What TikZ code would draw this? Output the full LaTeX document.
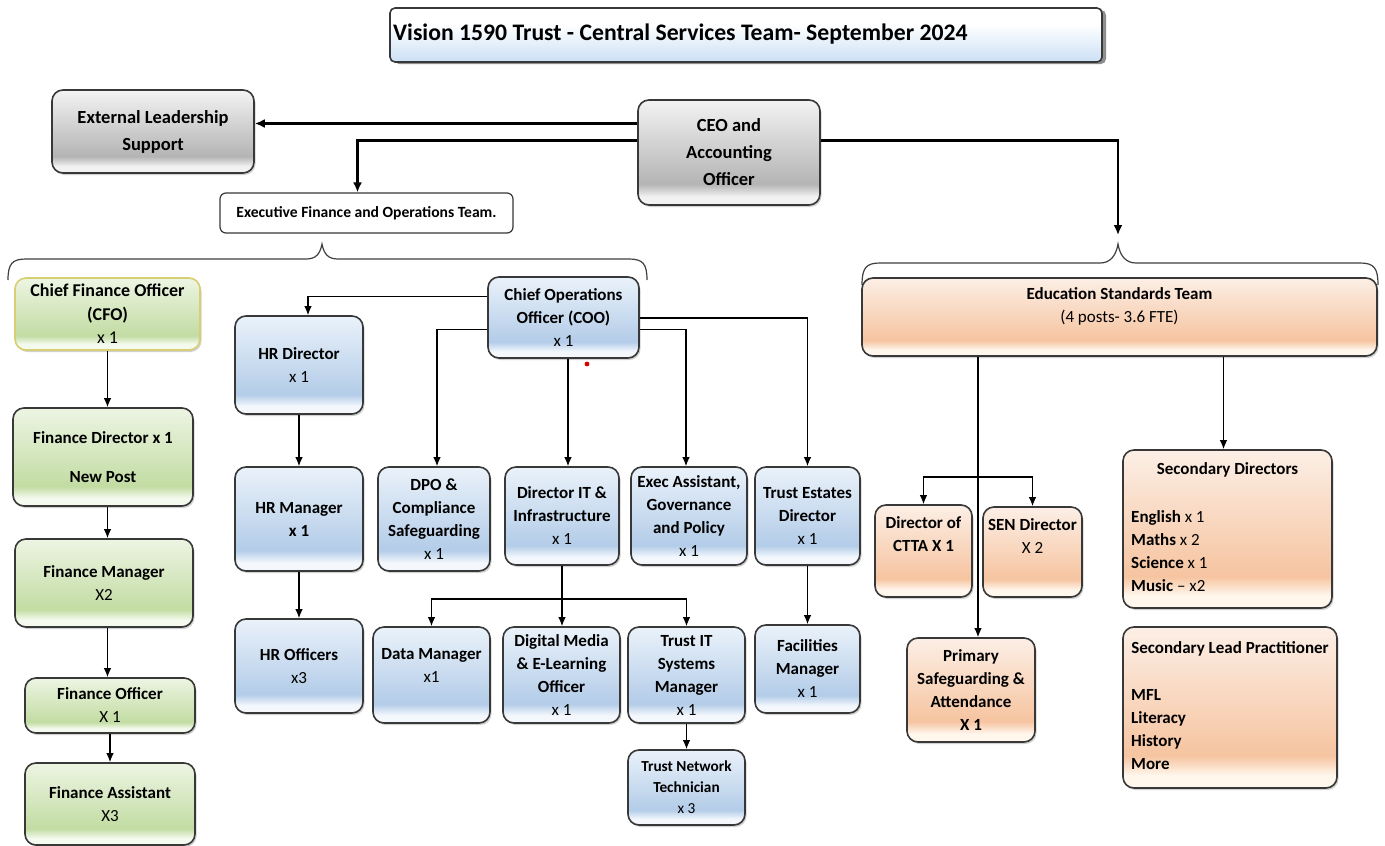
\documentclass[tikz,border=0pt]{standalone}
\usepackage{fontspec}
\setmainfont{Carlito}
\usetikzlibrary{arrows.meta,shadows,calc}

\definecolor{bordc}{HTML}{383838}
\definecolor{bT}{HTML}{EAF2FA}
\definecolor{bD}{HTML}{B3CCE8}
\definecolor{bW}{HTML}{F4F8FD}
\definecolor{gT}{HTML}{EDF5E3}
\definecolor{gD}{HTML}{C2DCA3}
\definecolor{gW}{HTML}{F5FAEF}
\definecolor{oT}{HTML}{FCEFE6}
\definecolor{oD}{HTML}{F6C4A0}
\definecolor{oW}{HTML}{FFF6EC}
\definecolor{yT}{HTML}{F3F3F3}
\definecolor{yD}{HTML}{B4B4B4}
\definecolor{yW}{HTML}{F2F2F2}
\definecolor{tT}{HTML}{FFFFFF}
\definecolor{tD}{HTML}{CBE0F5}
\definecolor{cfoborder}{HTML}{D8CF72}

\pgfdeclareverticalshading{blueglass}{100bp}{color(0bp)=(bW); color(25bp)=(bW); color(29bp)=(bW); color(35bp)=(bD); color(75bp)=(bT); color(100bp)=(bT)}
\pgfdeclareverticalshading{greenglass}{100bp}{color(0bp)=(gW); color(25bp)=(gW); color(29bp)=(gW); color(35bp)=(gD); color(75bp)=(gT); color(100bp)=(gT)}
\pgfdeclareverticalshading{orangeglass}{100bp}{color(0bp)=(oW); color(25bp)=(oW); color(29bp)=(oW); color(35bp)=(oD); color(75bp)=(oT); color(100bp)=(oT)}
\pgfdeclareverticalshading{grayglass}{100bp}{color(0bp)=(yW); color(25bp)=(yW); color(29bp)=(yW); color(35bp)=(yD); color(75bp)=(yT); color(100bp)=(yT)}
\pgfdeclareverticalshading{titleglass}{100bp}{color(0bp)=(tD); color(25bp)=(tD); color(60bp)=(tT); color(100bp)=(tT)}

\newcommand\nb[1]{{\mdseries #1}}
\newcommand\bx[7]{\node[#2, minimum width={(#5-#3)*1pt}, minimum height={(#6-#4)*1pt}] (#1) at ({(#3+#5)/2},{(#4+#6)/2}) {#7};}

\tikzset{
  boxbase/.style={draw=bordc, line width=1.6pt, rounded corners=11pt, inner sep=1pt, align=center,
     font=\fontsize{17}{23}\selectfont\bfseries,
     drop shadow={shadow xshift=1.5pt, shadow yshift=-2pt, fill=black, opacity=0.18}},
  bluebx/.style={boxbase, shading=blueglass},
  greenbx/.style={boxbase, shading=greenglass},
  orangebx/.style={boxbase, shading=orangeglass},
  graybx/.style={boxbase, shading=grayglass, font=\fontsize{18.5}{27}\selectfont\bfseries},
  txt/.style={inner sep=0pt, align=center, font=\fontsize{17}{23}\selectfont\bfseries},
  arr/.style={draw=black, line width=1.25pt, -{Latex[length=9pt,width=7.5pt]}},
  bigarr/.style={draw=black, line width=2.6pt, -{Latex[length=10pt,width=9pt]}},
  bracest/.style={draw=black!75, line width=1.2pt},
}

\begin{document}
\begin{tikzpicture}[x=1pt,y=-1pt]
\useasboundingbox (0,0) rectangle (1385,846);
\fill[white] (0,0) rectangle (1385,846);

% Title
\bx{title}{draw=bordc, line width=1.6pt, rounded corners=5pt, shading=titleglass, drop shadow={shadow xshift=4pt, shadow yshift=-2pt, fill=black!55, opacity=0.8}}{390}{8}{1102}{62}{}
\node[anchor=west, inner sep=0pt, font=\fontsize{23.7}{27}\selectfont\bfseries] (titletext) at (393,34) {Vision 1590 Trust - Central Services Team- September 2024};

% Top level
\bx{ext}{graybx}{52}{90}{254}{173}{External Leadership\\Support}
\bx{ceo}{graybx}{638}{100}{820}{205}{CEO and\\Accounting\\Officer}
\bx{team}{draw=bordc, line width=1.2pt, rounded corners=6pt, fill=white, font=\fontsize{15.6}{18}\selectfont\bfseries}{220}{193}{513}{233}{Executive Finance and Operations Team.}

% Braces
\draw[bracest] (8,280) .. controls (8,264) and (12,259) .. (26,259) -- (306,259) .. controls (316,259) and (320,254) .. (322,244) .. controls (324,254) and (328,259) .. (338,259) -- (629,259) .. controls (643,259) and (647,264) .. (647,280);
\draw[bracest] (862,285) .. controls (862,268) and (866,263) .. (880,263) -- (1100,263) .. controls (1110,263) and (1116,256) .. (1118,244) .. controls (1120,256) and (1126,263) .. (1136,263) -- (1360,263) .. controls (1374,263) and (1378,268) .. (1378,285);

% Finance column
\bx{cfo}{greenbx, draw=cfoborder, font=\fontsize{18}{23.5}\selectfont\bfseries}{15}{278}{200}{350}{Chief Finance Officer\\(CFO)\\\nb{x 1}}
\bx{fd}{greenbx}{13}{408}{193}{506}{Finance Director x 1\\[16pt]New Post}
\bx{fm}{greenbx}{15}{539}{193}{627}{Finance Manager\\\nb{X2}}
\bx{fo}{greenbx}{25}{678}{195}{733}{Finance Officer\\\nb{X 1}}
\bx{fa}{greenbx}{25}{763}{195}{845}{Finance Assistant\\\nb{X3}}

% COO and operations
\bx{coo}{bluebx}{488}{277}{639}{358}{Chief Operations\\Officer (COO)\\\nb{x 1}}
\bx{hrd}{bluebx}{235}{316}{363}{414}{HR Director\\\nb{x 1}}
\bx{hrm}{bluebx}{235}{467}{363}{571}{HR Manager\\x 1}
\bx{hro}{bluebx}{235}{619}{363}{713}{HR Officers\\\nb{x3}}
\bx{dpo}{bluebx}{378}{467}{490}{571}{DPO \&\\Compliance\\Safeguarding\\\nb{x 1}}
\bx{dit}{bluebx}{505}{467}{619}{565}{Director IT \&\\Infrastructure\\\nb{x 1}}
\bx{ea}{bluebx}{631}{467}{747}{565}{Exec Assistant,\\Governance\\and Policy\\\nb{x 1}}
\bx{ted}{bluebx}{755}{467}{860}{565}{Trust Estates\\Director\\\nb{x 1}}
\bx{dm}{bluebx}{373}{627}{490}{723}{}
\node[txt] (dmtext) at (431.5,665) {Data Manager\\\nb{x1}};
\bx{digm}{bluebx}{503}{627}{620}{723}{Digital Media\\\& E-Learning\\Officer\\\nb{x 1}}
\bx{tit}{bluebx}{628}{627}{745}{723}{Trust IT\\Systems\\Manager\\\nb{x 1}}
\bx{tnt}{bluebx, font=\fontsize{15.3}{21}\selectfont\bfseries}{628}{750}{745}{825}{Trust Network\\Technician\\\nb{x 3}}
\bx{fac}{bluebx}{755}{625}{860}{713}{Facilities\\Manager\\\nb{x 1}}

% Education standards
\bx{est}{orangebx}{862}{278}{1377}{356}{}
\node[txt] (esttext) at (1119.5,306) {Education Standards Team\\\nb{(4 posts- 3.6 FTE)}};
\bx{ctta}{orangebx}{875}{505}{972}{597}{}
\node[txt] (cttatext) at (923.5,534.5) {Director of\\CTTA X 1};
\bx{sen}{orangebx}{983}{507}{1082}{597}{}
\node[txt] (sentext) at (1032.5,536.5) {SEN Director\\\nb{X 2}};
\bx{prim}{orangebx}{907}{638}{1035}{742}{Primary\\Safeguarding \&\\Attendance\\X 1}
\bx{secdir}{orangebx}{1123}{450}{1332}{608}{}
\node[txt] (sdtitle) at (1227.5,470) {Secondary Directors};
\node[txt, anchor=west, align=left] (sdlist) at (1131,551) {English \nb{x 1}\\Maths \nb{x 2}\\Science \nb{x 1}\\Music \nb{– x2}};
\bx{slp}{orangebx}{1123}{627}{1337}{788}{}
\node[txt] (slptitle) at (1230,649) {Secondary Lead Practitioner};
\node[txt, anchor=west, align=left] (slplist) at (1131,730) {MFL\\Literacy\\History\\More};

% CEO connectors
\coordinate (ceoA) at ([yshift=29pt]ceo.west);
\draw[bigarr] (ceoA) -- (ceoA -| ext.east);
\coordinate (ceoB) at ([yshift=12pt]ceo.west);
\coordinate (teamIn) at ([xshift=-9pt]team.north);
\draw[bigarr] (ceoB) -| (teamIn);
\coordinate (ceoC) at ([yshift=12pt]ceo.east);
\coordinate (rtip) at (1118,235);
\draw[bigarr] (ceoC) -| (rtip);

% Finance connectors
\draw[arr] (cfo.south) -- (cfo.south |- fd.north);
\draw[arr] (fd.south -| cfo.south) -- (fm.north -| cfo.south);
\draw[arr] (fm.south -| cfo.south) -- (fo.north -| cfo.south);
\draw[arr] (fo.south) -- (fa.north);

% COO connectors
\coordinate (cooW1) at ([yshift=21pt]coo.west);
\coordinate (hrdIn) at ([xshift=9pt]hrd.north);
\draw[arr] (cooW1) -| (hrdIn);
\draw[arr] (hrd.south) -- (hrm.north);
\draw[arr] (hrm.south) -- (hro.north);
\coordinate (cooW2) at ([yshift=-12pt]coo.west);
\coordinate (dpoIn) at ([xshift=3pt]dpo.north);
\draw[arr] (cooW2) -| (dpoIn);
\coordinate (cooS) at ([xshift=4.5pt]coo.south);
\draw[arr] (cooS) -- (cooS |- dit.north);
\coordinate (cooE2) at ([yshift=-12pt]coo.east);
\coordinate (eaIn) at ([xshift=-3pt]ea.north);
\draw[arr] (cooE2) -| (eaIn);
\coordinate (cooE1) at ([yshift=-0.5pt]coo.east);
\draw[arr] (cooE1) -| (ted.north);
\fill[red!85!black] (587,364) circle (2.4pt);

% IT connectors
\draw[arr] (dit.south) -- (dit.south |- digm.north);
\coordinate (itj) at (562,599);
\draw[arr] (itj) -| (dm.north);
\draw[arr] (itj) -| (tit.north);
\draw[arr] (tit.south) -- (tnt.north);
\draw[arr] (ted.south) -- (fac.north);

% Education connectors
\coordinate (pIn) at ([xshift=7pt]prim.north);
\draw[arr] (est.south -| pIn) -- (pIn);
\coordinate (ej) at (978,477);
\draw[arr] (ej) -| (ctta.north);
\draw[arr] (ej) -| (sen.north);
\coordinate (sdIn) at ([xshift=-4pt]secdir.north);
\draw[arr] (est.south -| sdIn) -- (sdIn);
\end{tikzpicture}
\end{document}
